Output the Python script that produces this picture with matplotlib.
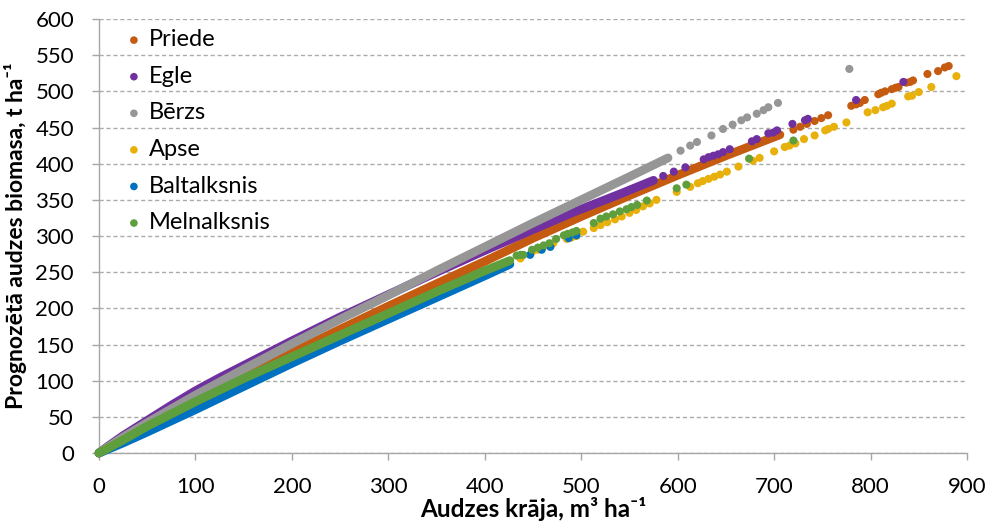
import matplotlib
matplotlib.use("Agg")
import matplotlib.pyplot as plt

plt.rcParams['font.family'] = ['Lato', 'DejaVu Sans']

series_names = ["Priede", "Egle", "Bērzs", "Apse", "Baltalksnis", "Melnalksnis"]
colors = ["#C55A11", "#7030A0", "#969696", "#E8B00A", "#0070C0", "#5E9E3C"]

# dense (continuous-looking) part of each series
priede_dense_x = [0, 25, 50, 75, 100, 150, 200, 250, 300, 350, 400, 450, 500, 550, 600, 650, 706]
priede_dense_y = [0, 20, 39, 57, 74, 107, 139, 171, 203, 234, 265, 297, 327, 356, 384, 411, 440]
egle_dense_x = [0, 10, 25, 50, 75, 100, 125, 150, 200, 250, 300, 350, 400, 450, 492, 540, 575]
egle_dense_y = [0, 10, 24, 45, 66, 86, 104, 121, 155, 188, 219, 250, 280, 309, 333, 358, 377]
berzs_dense_x = [0, 10, 25, 50, 75, 100, 150, 200, 250, 300, 350, 400, 450, 500, 550, 590]
berzs_dense_y = [0, 9, 22, 42, 61, 80, 116, 151, 185, 218, 252, 285, 318, 350, 382, 408]
apse_dense_x = [0, 25, 50, 100, 150, 200, 250, 300, 350, 398]
apse_dense_y = [0, 17, 34, 67, 100, 131, 161, 191, 221, 246]
balt_dense_x = [0, 25, 50, 100, 150, 200, 250, 300, 350, 400, 426]
balt_dense_y = [0, 14, 29, 60, 92, 124, 155, 185, 215, 245, 261]
meln_dense_x = [0, 25, 50, 100, 150, 200, 250, 300, 350, 400, 426]
meln_dense_y = [0, 18, 37, 71, 103, 133, 163, 193, 223, 252, 266]

# individually visible points
priede_x = [720, 727, 734, 742, 749, 756, 780, 785, 789, 794, 808, 811, 815, 822, 826, 829,
            837, 841, 844, 859, 870, 877, 881]
priede_y = [447, 451, 455, 459, 463, 467, 480, 482, 484, 488, 496, 498, 500, 503, 505, 506,
            512, 513, 515, 524, 528, 533, 535]
egle_x = [585, 596, 608, 627, 632, 637, 642, 647, 654, 677, 682, 694, 699, 703, 719, 732, 735,
          785, 834]
egle_y = [383, 389, 395, 406, 409, 411, 413, 416, 420, 431, 434, 442, 443, 446, 455, 460, 462,
          488, 513]
berzs_x = [603, 613, 620, 635, 647, 657, 666, 672, 682, 689, 694, 704, 778]
berzs_y = [418, 425, 430, 439, 448, 454, 460, 464, 469, 474, 478, 484, 531]
apse_x = [416, 423, 437, 449, 455, 460, 466, 471, 485, 490, 495, 502, 513, 520, 527, 535, 542,
          550, 557, 564, 571, 578, 599, 613, 621, 626, 632, 638, 644, 651, 663, 678, 685, 700,
          711, 716, 722, 731, 742, 753, 756, 762, 775, 797, 805, 813, 817, 822, 839, 843, 850,
          863, 889]
apse_y = [255, 259, 269, 278, 281, 284, 287, 290, 296, 298, 300, 306, 311, 315, 319, 323, 327,
          332, 336, 341, 345, 350, 361, 368, 373, 376, 379, 382, 385, 389, 396, 404, 408, 417,
          423, 425, 428, 434, 439, 446, 448, 451, 457, 471, 474, 478, 480, 483, 493, 494, 499,
          506, 521]
balt_x = [447, 459, 468, 487, 495]
balt_y = [274, 281, 285, 297, 301]
meln_x = [433, 437, 440, 449, 455, 461, 467, 474, 482, 486, 491, 495, 513, 520, 526, 533, 540,
          547, 552, 558, 568, 599, 609, 674, 720]
meln_y = [273, 274, 274, 281, 284, 287, 290, 296, 301, 303, 305, 307, 318, 324, 327, 330, 334,
          337, 340, 343, 349, 366, 371, 407, 432]

x_ticks = [0, 100, 200, 300, 400, 500, 600, 700, 800, 900]
y_ticks = [0, 50, 100, 150, 200, 250, 300, 350, 400, 450, 500, 550, 600]

dense = [(priede_dense_x, priede_dense_y), (egle_dense_x, egle_dense_y),
         (berzs_dense_x, berzs_dense_y), (apse_dense_x, apse_dense_y),
         (balt_dense_x, balt_dense_y), (meln_dense_x, meln_dense_y)]
sparse = [(priede_x, priede_y), (egle_x, egle_y), (berzs_x, berzs_y), (apse_x, apse_y),
          (balt_x, balt_y), (meln_x, meln_y)]

fig = plt.figure(figsize=(9.92, 5.28), dpi=100)
ax = fig.add_axes([0.0998, 0.142, 0.875, 0.822])

for i, name in enumerate(series_names):
    dx, dy = dense[i]
    sx, sy = sparse[i]
    z = 3 + i
    ax.plot(dx, dy, color=colors[i], lw=6.3, solid_capstyle='round', solid_joinstyle='round',
            zorder=z, clip_on=False)
    ax.scatter(sx, sy, s=34, color=colors[i], edgecolors='none', zorder=z, clip_on=False)
    ax.scatter([], [], s=30, color=colors[i], edgecolors='none', label=name)

ax.set_xlim(0, 900)
ax.set_ylim(0, 600)
ax.set_xticks(x_ticks)
ax.set_yticks(y_ticks)
ax.tick_params(axis='x', direction='out', length=5, width=1, color='#A6A6A6', pad=12,
               labelsize=16)
ax.tick_params(axis='y', direction='out', length=5, width=1, color='#A6A6A6', pad=13,
               labelsize=16)
ax.grid(axis='y', linestyle=(0, (3, 2)), color='#ABABAB', linewidth=1)
ax.set_axisbelow(True)
for s in ['top', 'right']:
    ax.spines[s].set_visible(False)
for s in ['left', 'bottom']:
    ax.spines[s].set_color('#A6A6A6')
    ax.spines[s].set_linewidth(1)

ax.set_xlabel("Audzes krāja, m³ ha⁻¹", fontsize=17.5, fontweight='bold', labelpad=0)
ax.set_ylabel("Prognozētā audzes biomasa, t ha⁻¹", fontsize=16.5, fontweight='bold', labelpad=6)

leg = ax.legend(loc='upper left', bbox_to_anchor=(0.013, 0.998), frameon=False, fontsize=17,
                handletextpad=0.05, labelspacing=0.66, markerscale=1.0, handlelength=1.2,
                borderaxespad=0)

fig.savefig("out.png", dpi=100)
